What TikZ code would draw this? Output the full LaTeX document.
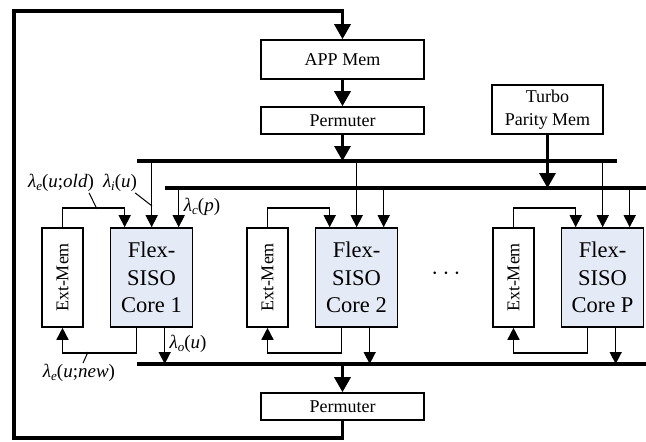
\documentclass[tikz,border=0pt]{standalone}
\usepackage{fontspec}
\setmainfont{Liberation Serif}
\usetikzlibrary{arrows.meta,calc}
\definecolor{corefill}{RGB}{228,234,246}
\newcommand\lsub[1]{\textit{λ}\raisebox{-0.3ex}{\fontsize{13}{13}\selectfont\textit{#1}}}
\newcommand\corefont{\fontsize{22.5}{27.5}\selectfont}
\begin{document}
\begin{tikzpicture}[x=1pt,y=-1pt,
  every node/.style={font=\fontsize{18}{23}\selectfont},
  box/.style={draw, line width=1.6pt, inner sep=0pt},
  arr/.style={line width=1.5pt, -{Triangle[length=12pt,width=12pt]}},
  bigarr/.style={line width=3.2pt, -{Triangle[length=15pt,width=16pt]}},
  bus/.style={line width=3.2pt},
  lead/.style={line width=1pt},
  lab/.style={inner sep=1pt, font=\fontsize{19}{23}\selectfont}]
\useasboundingbox (0,0) rectangle (646,442);
\node[box, minimum width=163pt, minimum height=39pt] (app) at (342.5,59.5) {APP Mem};
\node[box, minimum width=163pt, minimum height=27pt] (perm1) at (342.5,120.5) {Permuter};
\node[box, minimum width=111pt, minimum height=49pt, align=center] (tpm) at (547.5,109.5) {Turbo\\Parity Mem};
\node[box, minimum width=163pt, minimum height=27pt] (perm2) at (342.5,406.5) {Permuter};
% buses
\coordinate (b1w) at (137,161); \coordinate (b1e) at (617,161);
\coordinate (b2w) at (165,188); \coordinate (b2e) at (647,188);
\coordinate (b3w) at (137,364); \coordinate (b3e) at (647,364);
\draw[bus] (b1w) -- (b1e);
\draw[bus] (b2w) -- (b2e);
\draw[bus] (b3w) -- (b3e);
% main arrows
\draw[bigarr] (app.south) -- (perm1.north);
\draw[bigarr] (perm1.south) -- (perm1.south |- b1w);
\draw[bigarr] (tpm.south) -- (tpm.south |- b2w);
\draw[bigarr] (perm2.north |- b3w) -- (perm2.north);
\coordinate (lb) at (14,438);
\coordinate (lt) at (14,11);
\draw[bigarr] (perm2.south) |- (lb) -- (lt) -| (app.north);
% cores
\foreach \i/\L in {1/110.5, 2/315.5, P/561.5} {
  \node[box, fill=corefill, minimum width=82pt, minimum height=99pt, align=center, font=\corefont] (core\i) at (\L+41, 277.5) {Flex-\\SISO\\Core \i};
  \node[box, minimum width=41pt, minimum height=99pt] (ext\i) at (\L-48, 277.5) {\rotatebox{90}{Ext-Mem}};
  \draw[arr] (ext\i.north) -- ++(0,-19) -| ([xshift=15pt]core\i.north west);
  \draw[arr] ([xshift=42pt]core\i.north west |- b1w) -- ([xshift=42pt]core\i.north west);
  \draw[arr] ([xshift=69pt]core\i.north west |- b2w) -- ([xshift=69pt]core\i.north west);
  \draw[arr] ([xshift=27pt]core\i.south west) -- ++(0,25) -| (ext\i.south);
  \draw[arr] ([xshift=55pt]core\i.south west) -- ([xshift=55pt]core\i.south west |- b3w);
}
\node (dots) at (446,274) {\fontsize{30}{30}\selectfont$\cdots$};
% labels
\node[lab] (lold) at (61,183) {\lsub{e}(\textit{u};\textit{old})};
\node[lab] (li) at (120,183) {\lsub{i}(\textit{u})};
\node[lab] (lc) at (202,207) {\lsub{c}(\textit{p})};
\node[lab] (lo) at (188,344) {\lsub{o}(\textit{u})};
\node[lab] (lnew) at (79,373) {\lsub{e}(\textit{u};\textit{new})};
\coordinate (k1) at (97,209);
\coordinate (k2) at (152,206);
\coordinate (k3) at (88,352);
\draw[lead] ([xshift=-6pt]lold.south east) -- (k1);
\draw[lead] ([xshift=-3pt]li.south east) -- (k2);
\draw[lead] ([xshift=4pt]lnew.north) -- (k3);
\end{tikzpicture}
\end{document}
